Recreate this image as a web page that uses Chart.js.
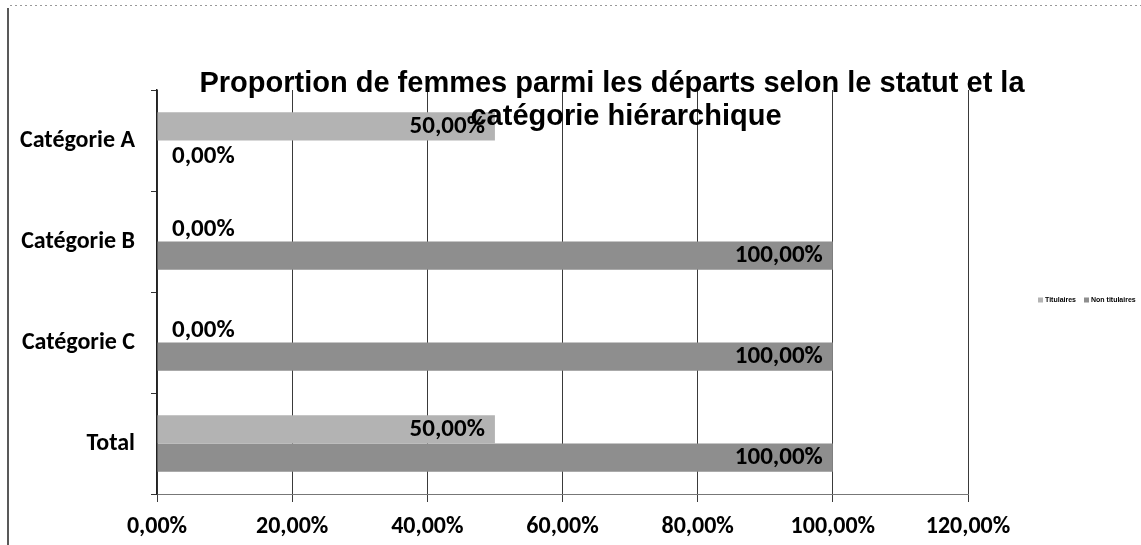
<!DOCTYPE html>
<html>
<head>
<meta charset="utf-8">
<script src="https://cdn.jsdelivr.net/npm/chart.js@4/dist/chart.umd.min.js"></script>
<style>
  html, body { margin: 0; padding: 0; background: #ffffff; }
  #wrap { width: 1141px; height: 545px; position: relative; }
</style>
</head>
<body>
<div id="wrap"><canvas id="c" width="1141" height="545"></canvas></div>
<script>
const categories = ['Catégorie A', 'Catégorie B', 'Catégorie C', 'Total'];
const seriesNames = ['Titulaires', 'Non titulaires'];
const titulaires = [50, 0, 0, 50];
const nonTitulaires = [0, 100, 100, 100];
const xTicks = [0, 20, 40, 60, 80, 100, 120];
const titleLines = ['Proportion de femmes parmi les départs selon le statut et la', 'catégorie hiérarchique'];

const LABEL_FONT = "'Carlito', 'Lato', 'Open Sans', sans-serif";
const fmt = v => v.toFixed(2).replace('.', ',') + '%';

const frameAndText = {
  id: 'frameAndText',
  beforeDraw(chart) {
    const ctx = chart.ctx;
    ctx.save();
    ctx.fillStyle = '#ffffff';
    ctx.fillRect(0, 0, chart.width, chart.height);
    ctx.strokeStyle = '#222';
    ctx.lineWidth = 1.5;
    ctx.beginPath(); ctx.moveTo(8, 8); ctx.lineTo(8, 545); ctx.stroke();
    ctx.strokeStyle = '#999';
    ctx.lineWidth = 1;
    ctx.setLineDash([2, 3]);
    ctx.beginPath(); ctx.moveTo(10, 5.5); ctx.lineTo(1141, 5.5); ctx.stroke();
    ctx.restore();
  },
  afterDatasetsDraw(chart) {
    const ctx = chart.ctx;
    ctx.save();
    ctx.font = "bold 25px " + LABEL_FONT;
    ctx.fillStyle = '#000';
    ctx.textBaseline = 'middle';
    const xs = chart.scales.x;
    chart.data.datasets.forEach((ds, di) => {
      const meta = chart.getDatasetMeta(di);
      meta.data.forEach((bar, i) => {
        const v = ds.data[i];
        const t = fmt(v);
        if (v === 0) {
          ctx.textAlign = 'left';
          ctx.fillText(t, xs.getPixelForValue(0) + 15, bar.y + 2);
        } else {
          ctx.textAlign = 'right';
          ctx.fillText(t, bar.x - 10, bar.y);
        }
      });
    });
    // title
    ctx.font = "bold 29px 'Liberation Sans', Arial, sans-serif";
    ctx.textAlign = 'center';
    ctx.textBaseline = 'alphabetic';
    ctx.fillText(titleLines[0], 612, 92);
    ctx.fillText(titleLines[1], 626, 125);
    // legend
    ctx.font = "bold 7px 'Liberation Sans', Arial, sans-serif";
    ctx.textAlign = 'left';
    ctx.textBaseline = 'middle';
    let lx = 1038;
    const ly = 300;
    chart.data.datasets.forEach((ds) => {
      ctx.fillStyle = ds.backgroundColor;
      ctx.fillRect(lx, ly - 2.5, 5, 5);
      ctx.fillStyle = '#000';
      ctx.fillText(ds.label, lx + 7, ly);
      lx += 7 + ctx.measureText(ds.label).width + 8;
    });
    ctx.restore();
  }
};

new Chart(document.getElementById('c'), {
  type: 'bar',
  data: {
    labels: categories,
    datasets: [
      { label: seriesNames[0], data: titulaires, backgroundColor: '#b3b3b3', borderWidth: 0 },
      { label: seriesNames[1], data: nonTitulaires, backgroundColor: '#8e8e8e', borderWidth: 0 }
    ]
  },
  options: {
    indexAxis: 'y',
    responsive: false,
    animation: false,
    devicePixelRatio: 1,
    categoryPercentage: 0.56,
    barPercentage: 1.0,
    layout: { padding: { top: 90, right: 173, bottom: 0, left: 0 } },
    plugins: {
      legend: { display: false },
      title: { display: false },
      tooltip: { enabled: false }
    },
    scales: {
      x: {
        min: 0, max: 120,
        afterFit(s) { s.height = 51; },
        afterBuildTicks(s) { s.ticks = xTicks.map(v => ({ value: v })); },
        ticks: {
          color: '#000',
          font: { family: LABEL_FONT, size: 24, weight: 'bold' },
          padding: 11,
          callback: v => fmt(v)
        },
        grid: { color: '#3a3a3a', lineWidth: 1, tickLength: 8, drawTicks: true },
        border: { display: true, color: '#777', width: 1 }
      },
      y: {
        afterFit(s) { s.width = 157; },
        ticks: {
          color: '#000',
          font: { family: LABEL_FONT, size: 24, weight: 'bold' },
          padding: 16
        },
        grid: { drawOnChartArea: false, color: '#333', tickLength: 6, offset: true },
        border: { display: true, color: '#222', width: 1.5 }
      }
    }
  },
  plugins: [frameAndText]
});
</script>
</body>
</html>
